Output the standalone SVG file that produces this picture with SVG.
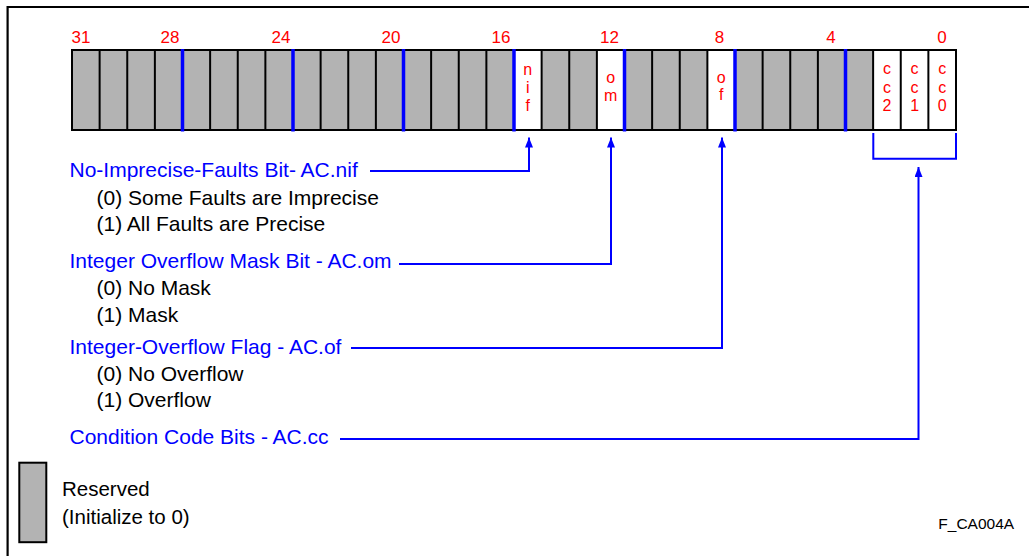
<svg xmlns="http://www.w3.org/2000/svg" width="1029" height="556" viewBox="0 0 1029 556">
<style>
text{font-family:"Liberation Sans",Arial,sans-serif}
.num{fill:#ff0000;font-size:17px;text-anchor:middle}
.cell{fill:#ff0000;font-size:16px;text-anchor:middle}
.title{fill:#0000ff;font-size:21px}
.sub{fill:#000;font-size:21px}
.div{stroke:#000;stroke-width:2}
.blue{stroke:#0000ff;stroke-width:3.5}
.conn{fill:none;stroke:#0000ff;stroke-width:2}
</style>
<defs>
<marker id="arr" markerUnits="userSpaceOnUse" markerWidth="10" markerHeight="8" refX="10" refY="4" orient="auto">
<path d="M0,0 L10,4 L0,8 z" fill="#0000ff"/>
</marker>
</defs>
<rect width="1029" height="556" fill="#fff"/>
<path d="M7.6,556 V7 H1029" fill="none" stroke="#000" stroke-width="2.2"/>

<g id="register">
<rect x="72" y="50" width="884" height="80" fill="#b3b3b3"/>
<rect x="514" y="50" width="27.625" height="80" fill="#fff"/>
<rect x="596.875" y="50" width="27.625" height="80" fill="#fff"/>
<rect x="707.375" y="50" width="27.625" height="80" fill="#fff"/>
<rect x="873.125" y="50" width="82.875" height="80" fill="#fff"/>
<g class="div">
<line x1="99.625" y1="50" x2="99.625" y2="130"/>
<line x1="127.25" y1="50" x2="127.25" y2="130"/>
<line x1="154.875" y1="50" x2="154.875" y2="130"/>
<line x1="210.125" y1="50" x2="210.125" y2="130"/>
<line x1="237.75" y1="50" x2="237.75" y2="130"/>
<line x1="265.375" y1="50" x2="265.375" y2="130"/>
<line x1="320.625" y1="50" x2="320.625" y2="130"/>
<line x1="348.25" y1="50" x2="348.25" y2="130"/>
<line x1="375.875" y1="50" x2="375.875" y2="130"/>
<line x1="431.125" y1="50" x2="431.125" y2="130"/>
<line x1="458.75" y1="50" x2="458.75" y2="130"/>
<line x1="486.375" y1="50" x2="486.375" y2="130"/>
<line x1="541.625" y1="50" x2="541.625" y2="130"/>
<line x1="569.25" y1="50" x2="569.25" y2="130"/>
<line x1="596.875" y1="50" x2="596.875" y2="130"/>
<line x1="652.125" y1="50" x2="652.125" y2="130"/>
<line x1="679.75" y1="50" x2="679.75" y2="130"/>
<line x1="707.375" y1="50" x2="707.375" y2="130"/>
<line x1="762.625" y1="50" x2="762.625" y2="130"/>
<line x1="790.25" y1="50" x2="790.25" y2="130"/>
<line x1="817.875" y1="50" x2="817.875" y2="130"/>
<line x1="873.125" y1="50" x2="873.125" y2="130"/>
<line x1="900.75" y1="50" x2="900.75" y2="130"/>
<line x1="928.375" y1="50" x2="928.375" y2="130"/>
</g>
<rect x="72" y="50" width="884" height="80" fill="none" stroke="#000" stroke-width="2"/>
<g class="blue">
<line x1="182.5" y1="49" x2="182.5" y2="131.5"/>
<line x1="293" y1="49" x2="293" y2="131.5"/>
<line x1="403.5" y1="49" x2="403.5" y2="131.5"/>
<line x1="514" y1="49" x2="514" y2="131.5"/>
<line x1="624.5" y1="49" x2="624.5" y2="131.5"/>
<line x1="735" y1="49" x2="735" y2="131.5"/>
<line x1="845.5" y1="49" x2="845.5" y2="131.5"/>
</g>
<g class="num">
<text x="81" y="43">31</text>
<text x="170" y="43">28</text>
<text x="281" y="43">24</text>
<text x="391" y="43">20</text>
<text x="501" y="43">16</text>
<text x="609.5" y="43">12</text>
<text x="719.5" y="43">8</text>
<text x="831" y="43">4</text>
<text x="942" y="43">0</text>
</g>
<g class="cell">
<text x="527.8" y="74.5">n</text><text x="527.8" y="92.8">i</text><text x="527.8" y="111">f</text>
<text x="610.7" y="83">o</text><text x="610.7" y="101">m</text>
<text x="721.2" y="82.5">o</text><text x="721.2" y="100">f</text>
<text x="887" y="74">c</text><text x="887" y="92.6">c</text><text x="887" y="111">2</text>
<text x="914.6" y="74">c</text><text x="914.6" y="92.6">c</text><text x="914.6" y="111">1</text>
<text x="942.2" y="74">c</text><text x="942.2" y="92.6">c</text><text x="942.2" y="111">0</text>
</g>
</g>

<g id="field-nif">
<text class="title" x="69.5" y="177">No-Imprecise-Faults Bit- AC.nif</text>
<text class="sub" x="96.5" y="204.5">(0) Some Faults are Imprecise</text>
<text class="sub" x="96.5" y="231">(1) All Faults are Precise</text>
</g>
<g id="field-om">
<text class="title" x="69.5" y="268">Integer Overflow Mask Bit - AC.om</text>
<text class="sub" x="96.5" y="295">(0) No Mask</text>
<text class="sub" x="96.5" y="322">(1) Mask</text>
</g>
<g id="field-of">
<text class="title" x="69.5" y="354">Integer-Overflow Flag - AC.of</text>
<text class="sub" x="96.5" y="380.5">(0) No Overflow</text>
<text class="sub" x="96.5" y="407">(1) Overflow</text>
</g>
<g id="field-cc">
<text class="title" x="69.5" y="444">Condition Code Bits - AC.cc</text>
</g>

<g id="connectors">
<polyline class="conn" points="370,171 529,171 529,137.5" marker-end="url(#arr)"/>
<polyline class="conn" points="399,264 611,264 611,137.5" marker-end="url(#arr)"/>
<polyline class="conn" points="351,348 722,348 722,137.5" marker-end="url(#arr)"/>
<polyline class="conn" points="340,439 918.5,439 918.5,167" marker-end="url(#arr)"/>
<path class="conn" d="M873.3,133 V158.8 H956 V133"/>
</g>

<g id="legend">
<rect x="19.3" y="462.7" width="27" height="79.5" fill="#b3b3b3" stroke="#000" stroke-width="2"/>
<text class="sub" x="62" y="495.5" style="font-size:20.5px">Reserved</text>
<text class="sub" x="62" y="523.5" style="font-size:20.5px">(Initialize to 0)</text>
</g>

<text id="figure-id" x="938.3" y="529" style="font-size:15.5px;fill:#000">F_CA004A</text>
</svg>
